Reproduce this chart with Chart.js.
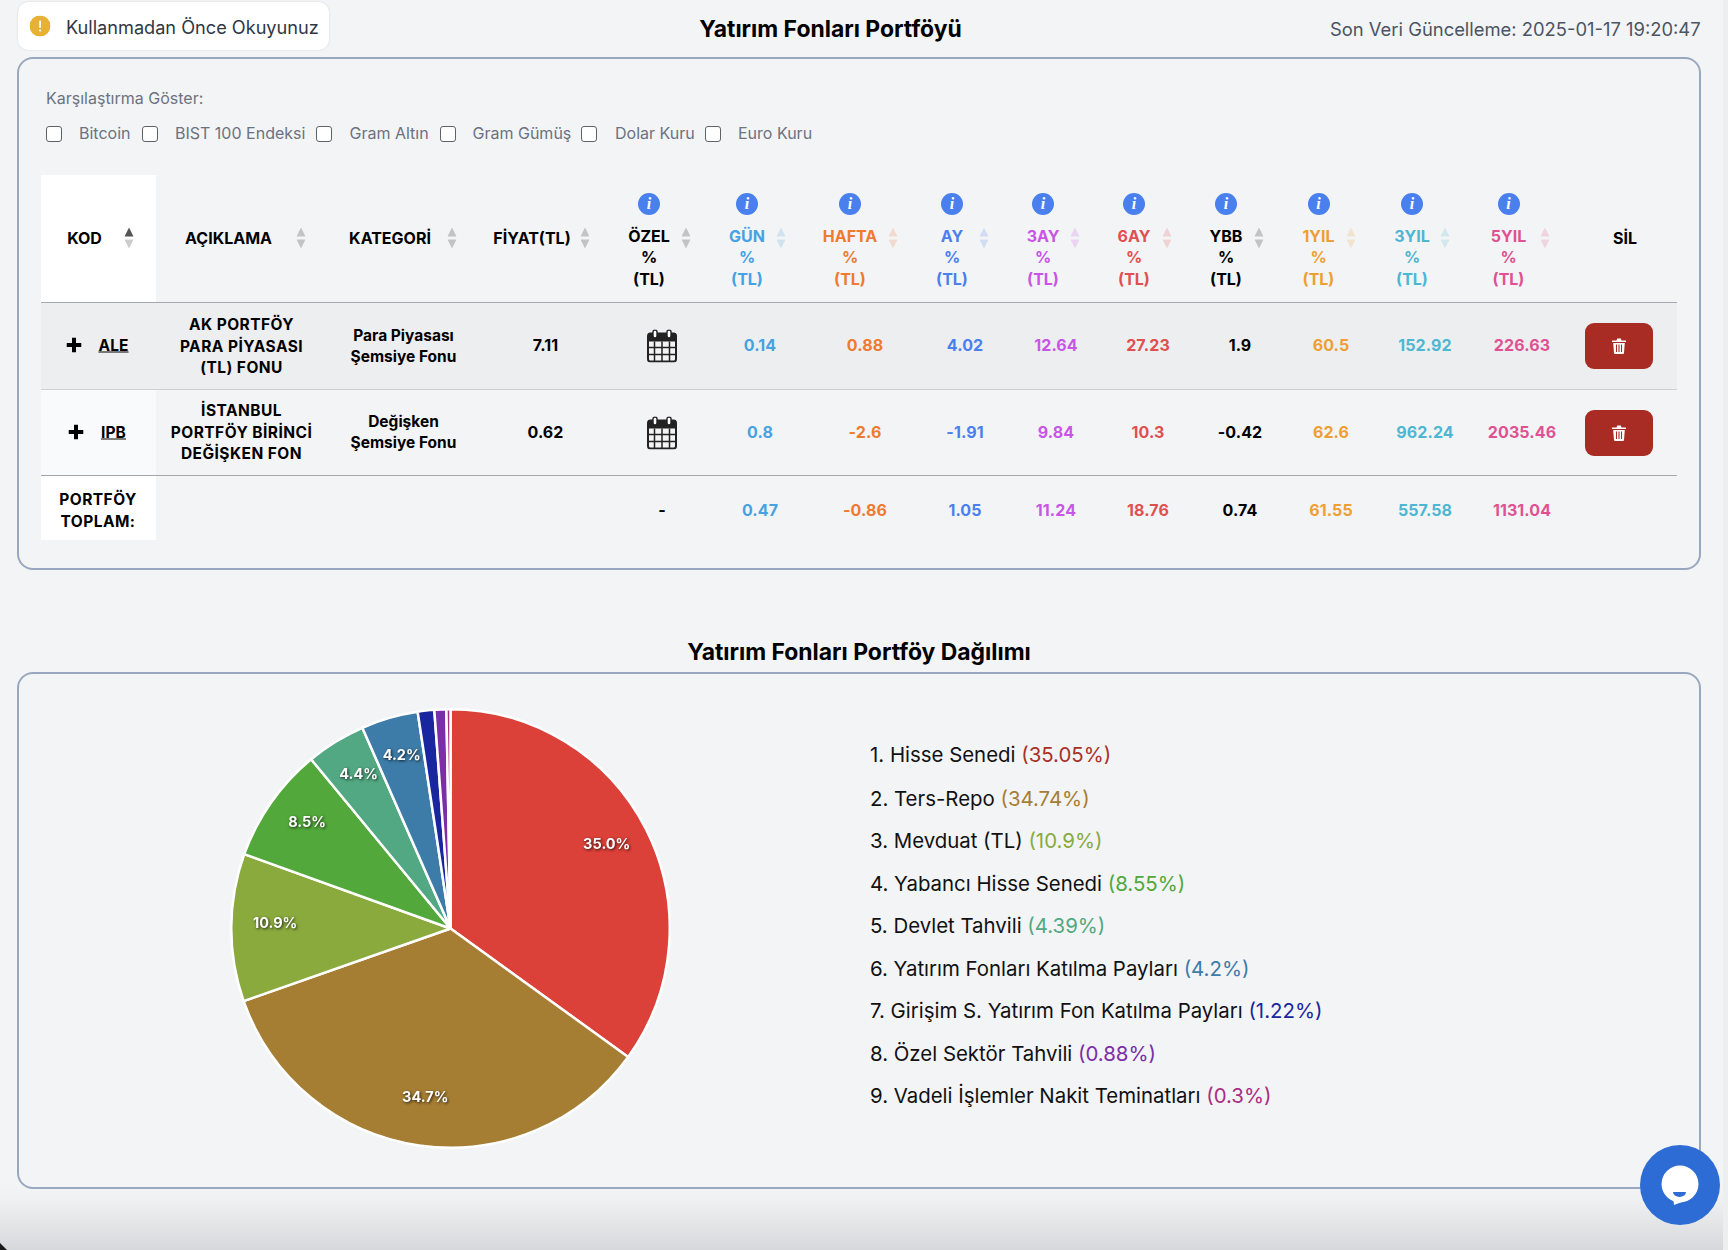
<!DOCTYPE html>
<html lang="tr">
<head>
<meta charset="utf-8">
<title>Yatırım Fonları Portföyü</title>
<script src="https://cdn.jsdelivr.net/npm/chart.js@4"></script>
<style>
  html, body { margin: 0; padding: 0; }
  body { width: 1728px; height: 1250px; position: relative; overflow: hidden; background: #f3f4f6; font-family: Inter, "Noto Sans", sans-serif; color: #000; }
  #bottomShade { position: absolute; left: 0; right: 0; top: 1185px; height: 65px; background: linear-gradient(#f3f4f6, #f0f1f3 20%, #d7d8db); }
  #corner { position: absolute; left: 0; top: 1243px; width: 7px; height: 7px; background: #1a1a1a; clip-path: polygon(0 0, 100% 100%, 0 100%); }
  .panel { position: absolute; left: 17px; width: 1680px; border: 2px solid #9aa8bf; border-radius: 16px; box-sizing: content-box; }
  .abs { position: absolute; transform: translate(-50%, -50%); white-space: nowrap; }
  .left { transform: translate(0, -50%); }
  .hd { font-weight: 700; font-size: 16px; }
  .val { font-weight: 700; font-size: 16px; letter-spacing: .1px; }
  .cell { font-weight: 700; font-size: 15.5px; }
  .cell.wide { letter-spacing: .45px; }
  .box { position: absolute; width: 14px; height: 14px; border: 1.5px solid #5f6368; border-radius: 3px; background: #fff; }
  .bg { position: absolute; }
  .rule { position: absolute; left: 41px; width: 1636px; height: 1px; background: #a4a7ad; }
  .info { position: absolute; width: 22px; height: 22px; margin: -11px 0 0 -11px; border-radius: 50%; background: #4a80ee; color: #fff; font: italic 700 16px/22px "Liberation Serif", serif; text-align: center; }
  .del { position: absolute; left: 1585px; width: 68px; height: 45.5px; background: #a82c24; border-radius: 9px; display: flex; align-items: center; justify-content: center; }
  .ico { position: absolute; transform: translate(-50%, -50%); }
  #pieWrap { position: absolute; left: 230px; top: 708px; width: 441px; height: 441px; }
  #legend { position: absolute; left: 870px; top: 0; }
  #legend div { position: absolute; white-space: nowrap; font-size: 20.4px; transform: translateY(-50%); color: #111; }
  #chat { position: absolute; left: 1640px; top: 1145px; width: 80px; height: 80px; border-radius: 50%; background: #2d6cd4; }
  #edge { position: absolute; left: 1723px; top: 0; width: 5px; height: 1250px; background: #eceef0; }
</style>
</head>
<body>
<div id="bottomShade"></div>
<div id="corner"></div>
<div id="edge"></div>

<div class="bg" style="left:18px;top:2px;width:311px;height:48px;background:#fff;border-radius:10px;box-shadow:0 0 2px rgba(0,0,0,.15)"></div>
<svg class="ico" style="left:40px;top:26px" width="21" height="21"><circle cx="10.5" cy="10.5" r="10.5" fill="#e6b135"/><rect x="9.7" y="5" width="1.8" height="7.5" rx=".9" fill="#fff"/><circle cx="10.6" cy="15" r="1.1" fill="#fff"/></svg>
<div class="abs left" style="left:66px;top:26.5px;font-size:18.15px;color:#2f3744">Kullanmadan Önce Okuyunuz</div>
<div class="abs" style="left:830.5px;top:28.5px;font-size:22.9px;font-weight:700">Yatırım Fonları Portföyü</div>
<div class="abs left" style="left:1330px;top:29px;font-size:18.4px;color:#4b5563">Son Veri Güncelleme: 2025-01-17 19:20:47</div>

<div class="panel" style="top:57px;height:509px"></div>
<div class="abs left" style="left:46px;top:98px;font-size:16px;color:#6b7280">Karşılaştırma Göster:</div>
<div id="compare"></div>

<div class="bg" style="left:41px;top:175px;width:115px;height:127px;background:#fff"></div>
<div class="bg" style="left:41px;top:302px;width:1636px;height:87px;background:#edeef0"></div>
<div class="bg" style="left:41px;top:389px;width:115px;height:86px;background:#f9fafb"></div>
<div class="bg" style="left:41px;top:475px;width:115px;height:65px;background:#fff"></div>
<div class="rule" style="top:302px"></div>
<div class="rule" style="top:389px;background:#ced0d4"></div>
<div class="rule" style="top:475px"></div>
<div id="table"></div>

<div class="abs" style="left:859px;top:652px;font-size:22.9px;font-weight:700">Yatırım Fonları Portföy Dağılımı</div>
<div class="panel" style="top:672px;height:513px"></div>
<div id="pieWrap"><canvas id="pie" width="441" height="441"></canvas></div>
<div id="legend"></div>

<div id="chat">
  <svg width="80" height="80"><circle cx="40" cy="39" r="18.5" fill="#fff"/><path d="M33 52 L34 60 L47 55 Z" fill="#fff"/><path d="M33 47 h13 a6.5 5 0 0 1 -13 0 Z" fill="#2d6cd4"/></svg>
</div>

<script>
// bloques de datos
const compareLabels = ['Bitcoin', 'BIST 100 Endeksi', 'Gram Altın', 'Gram Gümüş', 'Dolar Kuru', 'Euro Kuru'];
const periods = ['GÜN', 'HAFTA', 'AY', '3AY', '6AY', 'YBB', '1YIL', '3YIL', '5YIL'];
const periodColors = ['#46a2e3', '#ef7a30', '#4a80ee', '#c855e6', '#df5050', '#000000', '#ee9f33', '#4db7d3', '#df5192'];
const codes = ['ALE', 'IPB'];
const names = [['AK PORTFÖY', 'PARA PİYASASI', '(TL) FONU'], ['İSTANBUL', 'PORTFÖY BİRİNCİ', 'DEĞİŞKEN FON']];
const categories = [['Para Piyasası', 'Şemsiye Fonu'], ['Değişken', 'Şemsiye Fonu']];
const prices = ['7.11', '0.62'];
const aleReturns = ['0.14', '0.88', '4.02', '12.64', '27.23', '1.9', '60.5', '152.92', '226.63'];
const ipbReturns = ['0.8', '-2.6', '-1.91', '9.84', '10.3', '-0.42', '62.6', '962.24', '2035.46'];
const totalReturns = ['0.47', '-0.86', '1.05', '11.24', '18.76', '0.74', '61.55', '557.58', '1131.04'];

const assetNames = ['Hisse Senedi', 'Ters-Repo', 'Mevduat (TL)', 'Yabancı Hisse Senedi', 'Devlet Tahvili', 'Yatırım Fonları Katılma Payları', 'Girişim S. Yatırım Fon Katılma Payları', 'Özel Sektör Tahvili', 'Vadeli İşlemler Nakit Teminatları'];
const assetValues = [35.05, 34.74, 10.9, 8.55, 4.39, 4.2, 1.22, 0.88, 0.3];
const sliceLabels = ['35.0%', '34.7%', '10.9%', '8.5%', '4.4%', '4.2%', '', '', ''];
const sliceColors = ['#db4039', '#a67e33', '#8aaa3e', '#52a83b', '#52a882', '#3d7ca8', '#1a26a0', '#7a2ea8', '#a82e80'];
const legendColors = ['#a8302a', '#a67e33', '#8aaa3e', '#52a83b', '#52a882', '#3d7ca8', '#1a26a0', '#7a2ea8', '#a82e80'];

const tableEl = document.getElementById('table');
function put(parent, text, x, y, cls, style) {
  const d = document.createElement('div');
  d.className = 'abs ' + (cls || '');
  d.style.left = x + 'px';
  d.style.top = y + 'px';
  if (style) d.style.cssText += style;
  d.textContent = text;
  parent.appendChild(d);
  return d;
}
function icon(svg, x, y) {
  const d = document.createElement('div');
  d.className = 'ico';
  d.style.left = x + 'px';
  d.style.top = y + 'px';
  d.innerHTML = svg;
  tableEl.appendChild(d);
}
function sortArrows(x, color, active) {
  icon(`<svg width="9" height="21" style="display:block"><path d="M4.5 0 L9 9 H0 Z" fill="${active ? '#555' : color}" opacity="${active ? 1 : .2}"/><path d="M0 12 H9 L4.5 21 Z" fill="${color}" opacity=".2"/></svg>`, x, 237.5);
}

// casillas de comparación
const compareEl = document.getElementById('compare');
const boxX = [46, 142, 316, 440, 581, 705];
const labelX = [79, 175, 349.5, 472.5, 615, 738];
compareLabels.forEach((l, i) => {
  const b = document.createElement('div');
  b.className = 'box';
  b.style.left = boxX[i] + 'px';
  b.style.top = '126px';
  compareEl.appendChild(b);
  put(compareEl, l, labelX[i], 132.5, 'left', 'font-size:16px;color:#6b7280');
});

// cabecera
put(tableEl, 'KOD', 84.5, 238, 'hd');
put(tableEl, 'AÇIKLAMA', 228.5, 238, 'hd');
put(tableEl, 'KATEGORİ', 390, 238, 'hd');
put(tableEl, 'FİYAT(TL)', 532, 238, 'hd');
put(tableEl, 'SİL', 1625, 238, 'hd');
sortArrows(128.5, '#000', true);
sortArrows(301, '#000');
sortArrows(452, '#000');
sortArrows(585, '#000');

const headX = [747, 850, 952, 1043, 1134, 1226, 1318.5, 1412, 1508.5];
const arrowX = [780.5, 893, 984, 1075, 1166.5, 1258.5, 1350.5, 1445, 1545];
const valX = [760, 865, 965, 1056, 1148, 1240, 1331, 1425, 1522];

function headerCol(label, color, x, ax) {
  put(tableEl, label, x, 235.5, 'hd', 'color:' + color);
  put(tableEl, '%', x, 256.5, 'hd', 'color:' + color);
  put(tableEl, '(TL)', x, 278.5, 'hd', 'color:' + color);
  const inf = document.createElement('div');
  inf.className = 'info';
  inf.style.left = x + 'px';
  inf.style.top = '203.5px';
  inf.textContent = 'i';
  tableEl.appendChild(inf);
  sortArrows(ax, color);
}
headerCol('ÖZEL', '#000', 649, 686);
periods.forEach((p, i) => headerCol(p, periodColors[i], headX[i], arrowX[i]));

// filas
const calendarSvg = `<svg width="30" height="33" viewBox="0 0 30 33" style="display:block"><rect x="1" y="4" width="28" height="28" rx="2.5" fill="#f4f4f4" stroke="#222" stroke-width="2"/><rect x="1" y="4" width="28" height="8" fill="#222"/><path d="M1 18 H29 M1 25 H29 M7.5 12 V32 M15 12 V32 M22.5 12 V32" stroke="#222" stroke-width="1.5"/><rect x="6" y="0.5" width="4" height="8" rx="2" fill="#fff" stroke="#222" stroke-width="1.4"/><rect x="20" y="0.5" width="4" height="8" rx="2" fill="#fff" stroke="#222" stroke-width="1.4"/></svg>`;
const trashSvg = `<svg width="14" height="16" viewBox="0 0 14 16" style="display:block"><path d="M0 2.5 H4.5 L5.2 .5 H8.8 L9.5 2.5 H14 V4 H0 Z M1.2 5 H12.8 L12 15 a1 1 0 0 1 -1 1 H3 a1 1 0 0 1 -1 -1 Z" fill="#fff"/><path d="M4.5 6.5 V14 M7 6.5 V14 M9.5 6.5 V14" stroke="#a82c24" stroke-width="1.1"/></svg>`;
const plusSvg = `<svg width="15" height="15" style="display:block"><path d="M5.5 0 H9.5 V5.5 H15 V9.5 H9.5 V15 H5.5 V9.5 H0 V5.5 H5.5 Z" fill="#000"/></svg>`;

function row(i, y, returns, plusX, nameY, catY, delTop) {
  icon(plusSvg, plusX, y);
  put(tableEl, codes[i], 113.5, y, 'val', 'text-decoration:underline;font-size:15.5px');
  names[i].forEach((t, k) => put(tableEl, t, 241.5, nameY[k], 'cell wide'));
  categories[i].forEach((t, k) => put(tableEl, t, 403.5, catY[k], 'cell'));
  put(tableEl, prices[i], 545.5, y, 'val');
  icon(calendarSvg, 662, y + 1);
  returns.forEach((v, k) => put(tableEl, v, valX[k], y, 'val', 'color:' + periodColors[k]));
  const del = document.createElement('div');
  del.className = 'del';
  del.style.top = delTop + 'px';
  del.innerHTML = trashSvg;
  tableEl.appendChild(del);
}
row(0, 344.5, aleReturns, 74, [324, 345.5, 367], [335, 356], 323);
row(1, 432, ipbReturns, 76, [410, 432, 453], [421, 442], 410);

put(tableEl, 'PORTFÖY', 98, 499, 'cell wide');
put(tableEl, 'TOPLAM:', 98, 521, 'cell wide');
put(tableEl, '-', 662, 509.5, 'val');
totalReturns.forEach((v, k) => put(tableEl, v, valX[k], 509.5, 'val', 'color:' + periodColors[k]));

// leyenda
const legendEl = document.getElementById('legend');
const legendY = [754, 797.5, 839.5, 882.5, 925, 968, 1010, 1053, 1095];
const legendValues = ['35.05%', '34.74%', '10.9%', '8.55%', '4.39%', '4.2%', '1.22%', '0.88%', '0.3%'];
assetNames.forEach((n, i) => {
  const d = document.createElement('div');
  d.style.top = legendY[i] + 'px';
  d.innerHTML = `${i + 1}. ${n} <span style="color:${legendColors[i]}">(${legendValues[i]})</span>`;
  legendEl.appendChild(d);
});

// etiquetas sobre las porciones
const sliceLabelPlugin = {
  id: 'sliceLabels',
  afterDatasetsDraw(chart) {
    const { ctx } = chart;
    const arcs = chart.getDatasetMeta(0).data;
    ctx.save();
    ctx.font = '700 14.5px Inter, sans-serif';
    ctx.fillStyle = '#fff';
    ctx.textAlign = 'center';
    ctx.textBaseline = 'middle';
    ctx.shadowColor = 'rgba(0,0,0,.8)';
    ctx.shadowBlur = 3;
    ctx.shadowOffsetX = 1;
    ctx.shadowOffsetY = 1;
    arcs.forEach((a, i) => {
      if (!sliceLabels[i]) return;
      const p = a.getProps(['x', 'y', 'startAngle', 'endAngle', 'outerRadius']);
      const mid = (p.startAngle + p.endAngle) / 2;
      const r = p.outerRadius * 0.8;
      ctx.fillText(sliceLabels[i], p.x + Math.cos(mid) * r, p.y + Math.sin(mid) * r - 4.5);
    });
    ctx.restore();
  },
};

new Chart(document.getElementById('pie'), {
  type: 'pie',
  data: {
    labels: assetNames,
    datasets: [{ data: assetValues, backgroundColor: sliceColors, borderColor: '#fff', borderWidth: 2.5 }],
  },
  options: {
    responsive: false,
    animation: false,
    layout: { padding: 0 },
    plugins: { legend: { display: false }, tooltip: { enabled: false } },
  },
  plugins: [sliceLabelPlugin],
});
</script>
</body>
</html>
